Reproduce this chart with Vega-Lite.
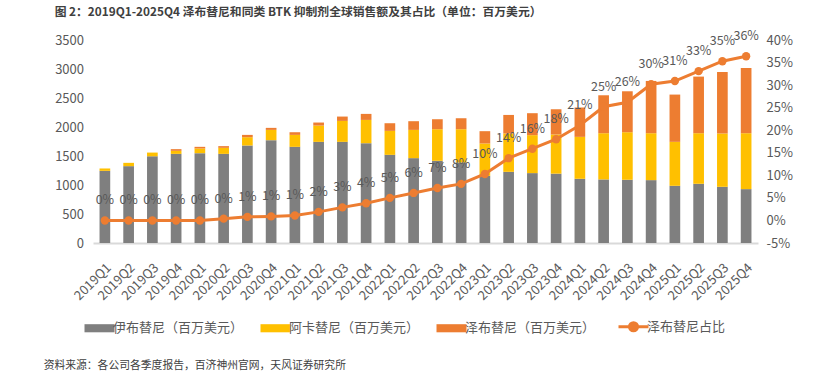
{
  "$schema": "https://vega.github.io/schema/vega-lite/v6.json",
  "padding": {"left": 43, "top": 7, "right": 10, "bottom": 4},
  "background": "white",
  "title": {
    "text": "资料来源：各公司各季度报告，百济神州官网，天风证券研究所",
    "orient": "bottom",
    "anchor": "start",
    "dx": -11,
    "fontSize": 10.8,
    "fontWeight": "normal",
    "color": "#404040",
    "offset": 23
  },
  "datasets": {
    "bars": [
      {"q":"2019Q1","d":"伊布替尼（百万美元）","k":1,"v":1244},{"q":"2019Q1","d":"阿卡替尼（百万美元）","k":2,"v":41},{"q":"2019Q1","d":"泽布替尼（百万美元）","k":3,"v":0},
      {"q":"2019Q2","d":"伊布替尼（百万美元）","k":1,"v":1325},{"q":"2019Q2","d":"阿卡替尼（百万美元）","k":2,"v":57},{"q":"2019Q2","d":"泽布替尼（百万美元）","k":3,"v":0},
      {"q":"2019Q3","d":"伊布替尼（百万美元）","k":1,"v":1495},{"q":"2019Q3","d":"阿卡替尼（百万美元）","k":2,"v":64},{"q":"2019Q3","d":"泽布替尼（百万美元）","k":3,"v":0},
      {"q":"2019Q4","d":"伊布替尼（百万美元）","k":1,"v":1537},{"q":"2019Q4","d":"阿卡替尼（百万美元）","k":2,"v":52},{"q":"2019Q4","d":"泽布替尼（百万美元）","k":3,"v":29},
      {"q":"2020Q1","d":"伊布替尼（百万美元）","k":1,"v":1549},{"q":"2020Q1","d":"阿卡替尼（百万美元）","k":2,"v":81},{"q":"2020Q1","d":"泽布替尼（百万美元）","k":3,"v":28},
      {"q":"2020Q2","d":"伊布替尼（百万美元）","k":1,"v":1537},{"q":"2020Q2","d":"阿卡替尼（百万美元）","k":2,"v":104},{"q":"2020Q2","d":"泽布替尼（百万美元）","k":3,"v":29},
      {"q":"2020Q3","d":"伊布替尼（百万美元）","k":1,"v":1681},{"q":"2020Q3","d":"阿卡替尼（百万美元）","k":2,"v":143},{"q":"2020Q3","d":"泽布替尼（百万美元）","k":3,"v":40},
      {"q":"2020Q4","d":"伊布替尼（百万美元）","k":1,"v":1773},{"q":"2020Q4","d":"阿卡替尼（百万美元）","k":2,"v":177},{"q":"2020Q4","d":"泽布替尼（百万美元）","k":3,"v":35},
      {"q":"2021Q1","d":"伊布替尼（百万美元）","k":1,"v":1658},{"q":"2021Q1","d":"阿卡替尼（百万美元）","k":2,"v":206},{"q":"2021Q1","d":"泽布替尼（百万美元）","k":3,"v":46},
      {"q":"2021Q2","d":"伊布替尼（百万美元）","k":1,"v":1744},{"q":"2021Q2","d":"阿卡替尼（百万美元）","k":2,"v":281},{"q":"2021Q2","d":"泽布替尼（百万美元）","k":3,"v":52},
      {"q":"2021Q3","d":"伊布替尼（百万美元）","k":1,"v":1744},{"q":"2021Q3","d":"阿卡替尼（百万美元）","k":2,"v":361},{"q":"2021Q3","d":"泽布替尼（百万美元）","k":3,"v":75},
      {"q":"2021Q4","d":"伊布替尼（百万美元）","k":1,"v":1721},{"q":"2021Q4","d":"阿卡替尼（百万美元）","k":2,"v":401},{"q":"2021Q4","d":"泽布替尼（百万美元）","k":3,"v":104},
      {"q":"2022Q1","d":"伊布替尼（百万美元）","k":1,"v":1520},{"q":"2022Q1","d":"阿卡替尼（百万美元）","k":2,"v":413},{"q":"2022Q1","d":"泽布替尼（百万美元）","k":3,"v":132},
      {"q":"2022Q2","d":"伊布替尼（百万美元）","k":1,"v":1463},{"q":"2022Q2","d":"阿卡替尼（百万美元）","k":2,"v":487},{"q":"2022Q2","d":"泽布替尼（百万美元）","k":3,"v":150},
      {"q":"2022Q3","d":"伊布替尼（百万美元）","k":1,"v":1417},{"q":"2022Q3","d":"阿卡替尼（百万美元）","k":2,"v":545},{"q":"2022Q3","d":"泽布替尼（百万美元）","k":3,"v":172},
      {"q":"2022Q4","d":"伊布替尼（百万美元）","k":1,"v":1389},{"q":"2022Q4","d":"阿卡替尼（百万美元）","k":2,"v":573},{"q":"2022Q4","d":"泽布替尼（百万美元）","k":3,"v":189},
      {"q":"2023Q1","d":"伊布替尼（百万美元）","k":1,"v":1158},{"q":"2023Q1","d":"阿卡替尼（百万美元）","k":2,"v":558},{"q":"2023Q1","d":"泽布替尼（百万美元）","k":3,"v":212},
      {"q":"2023Q2","d":"伊布替尼（百万美元）","k":1,"v":1227},{"q":"2023Q2","d":"阿卡替尼（百万美元）","k":2,"v":661},{"q":"2023Q2","d":"泽布替尼（百万美元）","k":3,"v":320},
      {"q":"2023Q3","d":"伊布替尼（百万美元）","k":1,"v":1205},{"q":"2023Q3","d":"阿卡替尼（百万美元）","k":2,"v":654},{"q":"2023Q3","d":"泽布替尼（百万美元）","k":3,"v":379},
      {"q":"2023Q4","d":"伊布替尼（百万美元）","k":1,"v":1196},{"q":"2023Q4","d":"阿卡替尼（百万美元）","k":2,"v":674},{"q":"2023Q4","d":"泽布替尼（百万美元）","k":3,"v":436},
      {"q":"2024Q1","d":"伊布替尼（百万美元）","k":1,"v":1107},{"q":"2024Q1","d":"阿卡替尼（百万美元）","k":2,"v":723},{"q":"2024Q1","d":"泽布替尼（百万美元）","k":3,"v":506},
      {"q":"2024Q2","d":"伊布替尼（百万美元）","k":1,"v":1096},{"q":"2024Q2","d":"阿卡替尼（百万美元）","k":2,"v":797},{"q":"2024Q2","d":"泽布替尼（百万美元）","k":3,"v":654},
      {"q":"2024Q3","d":"伊布替尼（百万美元）","k":1,"v":1090},{"q":"2024Q3","d":"阿卡替尼（百万美元）","k":2,"v":820},{"q":"2024Q3","d":"泽布替尼（百万美元）","k":3,"v":706},
      {"q":"2024Q4","d":"伊布替尼（百万美元）","k":1,"v":1084},{"q":"2024Q4","d":"阿卡替尼（百万美元）","k":2,"v":809},{"q":"2024Q4","d":"泽布替尼（百万美元）","k":3,"v":901},
      {"q":"2025Q1","d":"伊布替尼（百万美元）","k":1,"v":986},{"q":"2025Q1","d":"阿卡替尼（百万美元）","k":2,"v":758},{"q":"2025Q1","d":"泽布替尼（百万美元）","k":3,"v":815},
      {"q":"2025Q2","d":"伊布替尼（百万美元）","k":1,"v":1021},{"q":"2025Q2","d":"阿卡替尼（百万美元）","k":2,"v":872},{"q":"2025Q2","d":"泽布替尼（百万美元）","k":3,"v":976},
      {"q":"2025Q3","d":"伊布替尼（百万美元）","k":1,"v":969},{"q":"2025Q3","d":"阿卡替尼（百万美元）","k":2,"v":919},{"q":"2025Q3","d":"泽布替尼（百万美元）","k":3,"v":1060},
      {"q":"2025Q4","d":"伊布替尼（百万美元）","k":1,"v":929},{"q":"2025Q4","d":"阿卡替尼（百万美元）","k":2,"v":964},{"q":"2025Q4","d":"泽布替尼（百万美元）","k":3,"v":1124}
    ],
    "share": [
      {"q":"2019Q1","s":0},{"q":"2019Q2","s":0},{"q":"2019Q3","s":0},{"q":"2019Q4","s":0},
      {"q":"2020Q1","s":0},{"q":"2020Q2","s":0.004},{"q":"2020Q3","s":0.008},{"q":"2020Q4","s":0.009},
      {"q":"2021Q1","s":0.011},{"q":"2021Q2","s":0.019},{"q":"2021Q3","s":0.029},{"q":"2021Q4","s":0.038},
      {"q":"2022Q1","s":0.05},{"q":"2022Q2","s":0.061},{"q":"2022Q3","s":0.072},{"q":"2022Q4","s":0.081},
      {"q":"2023Q1","s":0.103},{"q":"2023Q2","s":0.138},{"q":"2023Q3","s":0.159},{"q":"2023Q4","s":0.18},
      {"q":"2024Q1","s":0.211},{"q":"2024Q2","s":0.252},{"q":"2024Q3","s":0.262},{"q":"2024Q4","s":0.302},
      {"q":"2025Q1","s":0.309},{"q":"2025Q2","s":0.331},{"q":"2025Q3","s":0.353},{"q":"2025Q4","s":0.364}
    ]
  },
  "vconcat": [
    {
      "width": 665,
      "height": 203,
      "title": {
        "text": "图 2：2019Q1-2025Q4 泽布替尼和同类 BTK 抑制剂全球销售额及其占比（单位：百万美元）",
        "anchor": "start",
        "dx": 0,
        "fontSize": 11.8,
        "fontWeight": "bold",
        "color": "#404040",
        "offset": 11
      },
      "encoding": {
        "x": {
          "field": "q",
          "type": "nominal",
          "sort": null,
          "scale": {"paddingInner": 0.55, "paddingOuter": 0.275},
          "axis": {
            "title": null,
            "labelAngle": -45,
            "labelFontSize": 13,
            "labelColor": "#595959",
            "ticks": false,
            "domainColor": "#d9d9d9",
            "domainWidth": 2,
            "labelPadding": 18
          }
        }
      },
      "layer": [
        {
          "data": {"name": "bars"},
          "mark": {"type": "bar"},
          "encoding": {
            "y": {
              "field": "v",
              "type": "quantitative",
              "stack": "zero",
              "scale": {"domain": [0, 3500], "nice": false},
              "axis": {
                "title": null,
                "values": [0, 500, 1000, 1500, 2000, 2500, 3000, 3500],
                "format": "d",
                "grid": false,
                "ticks": false,
                "domain": false,
                "labelFontSize": 13,
                "labelColor": "#595959",
                "labelPadding": 9.5,
                "orient": "left"
              }
            },
            "color": {
              "field": "d",
              "type": "nominal",
              "scale": {
                "domain": ["伊布替尼（百万美元）", "阿卡替尼（百万美元）", "泽布替尼（百万美元）", "泽布替尼占比"],
                "range": ["#7f7f7f", "#ffc000", "#ed7d31", "#ed7d31"]
              },
              "legend": {
                "title": null,
                "orient": "bottom",
                "direction": "horizontal",
                "labelFontSize": 13,
                "labelColor": "#595959",
                "labelOffset": 7,
                "columnPadding": 16,
                "symbolSize": 900,
                "offset": 17,
                "encode": {
                  "symbols": {
                    "update": {
                      "shape": {"signal": "datum.value == '泽布替尼占比' ? 'M-1,0H1M-0.27,0A0.27,0.27 0 1,1 0.27,0A0.27,0.27 0 1,1 -0.27,0Z' : 'M-1,-0.27H1V0.27H-1Z'"},
                      "fill": {"scale": "color", "field": "value"},
                      "stroke": {"scale": "color", "field": "value"},
                      "strokeWidth": {"signal": "datum.value == '泽布替尼占比' ? 3 : 0"},
                      "opacity": {"value": 1},
                      "fillOpacity": {"value": 1},
                      "strokeOpacity": {"value": 1}
                    }
                  }
                }
              }
            },
            "order": {"field": "k", "type": "quantitative", "sort": "ascending"}
          }
        },
        {
          "data": {"name": "share"},
          "encoding": {
            "y": {
              "field": "s",
              "type": "quantitative",
              "scale": {"domain": [-0.05, 0.4], "nice": false},
              "axis": {
                "title": null,
                "orient": "right",
                "values": [-0.05, 0, 0.05, 0.1, 0.15, 0.2, 0.25, 0.3, 0.35, 0.4],
                "format": ".0%",
                "labelExpr": "replace(datum.label, '−', '-')",
                "grid": false,
                "ticks": false,
                "domain": false,
                "labelFontSize": 13,
                "labelColor": "#595959",
                "labelPadding": 8
              }
            }
          },
          "layer": [
            {
              "mark": {"type": "line", "strokeWidth": 3},
              "encoding": {"color": {"datum": "泽布替尼占比"}}
            },
            {
              "mark": {"type": "point", "filled": true, "size": 70, "opacity": 1},
              "encoding": {"color": {"datum": "泽布替尼占比"}}
            },
            {
              "mark": {"type": "text", "dy": -20, "fontSize": 12.5, "color": "#595959"},
              "encoding": {"text": {"field": "s", "type": "quantitative", "format": ".0%"}}
            }
          ]
        }
      ],
      "resolve": {"scale": {"y": "independent"}}
    }
  ],
  "config": {
    "view": {"stroke": null},
    "font": "Noto Sans CJK SC"
  }
}
